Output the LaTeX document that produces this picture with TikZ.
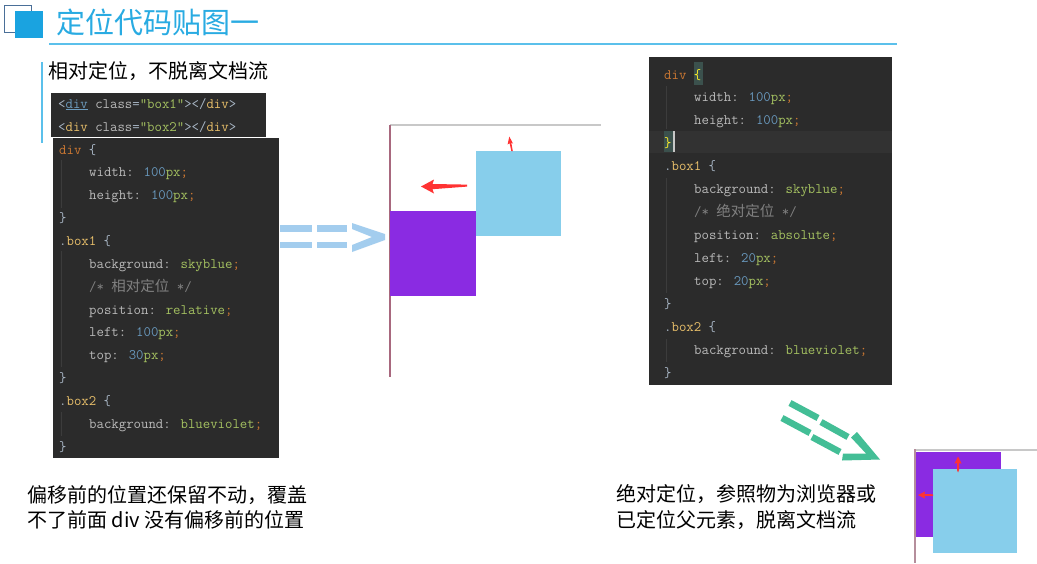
\documentclass[tikz,border=0pt]{standalone}
\usepackage{fontspec}
\newfontfamily\cjk{Noto Sans CJK SC}
\definecolor{titleblue}{HTML}{29ABE2}
\definecolor{linebl}{HTML}{5BC0EB}
\definecolor{iconbl}{HTML}{1AA3E0}
\definecolor{iconout}{HTML}{4A6F98}
\definecolor{codebg}{HTML}{2B2B2B}
\definecolor{codehl}{HTML}{323232}
\definecolor{bracehl}{HTML}{3B514D}
\definecolor{cor}{HTML}{CC7832}
\definecolor{ctx}{HTML}{A9B7C6}
\definecolor{cpr}{HTML}{BABABA}
\definecolor{cnu}{HTML}{6897BB}
\definecolor{cst}{HTML}{A5C261}
\definecolor{cgo}{HTML}{E8BF6A}
\definecolor{ccm}{HTML}{808080}
\definecolor{cyel}{HTML}{FFEF28}
\definecolor{ulink}{HTML}{6D9CBE}
\definecolor{skyb}{HTML}{87CEEB}
\definecolor{bviol}{HTML}{8A2BE2}
\definecolor{redar}{HTML}{FF3333}
\definecolor{lbarrow}{HTML}{A3CDEE}
\definecolor{teal}{HTML}{43BE96}
\definecolor{axisv}{HTML}{A8687E}
\definecolor{axish}{HTML}{C8C8C8}
\definecolor{guide}{HTML}{3C3C3C}
\newcommand\qOr[1]{\textcolor{cor}{#1}}
\newcommand\qTx[1]{\textcolor{ctx}{#1}}
\newcommand\qPr[1]{\textcolor{cpr}{#1}}
\newcommand\qNu[1]{\textcolor{cnu}{#1}}
\newcommand\qSt[1]{\textcolor{cst}{#1}}
\newcommand\qGo[1]{\textcolor{cgo}{#1}}
\newcommand\qCm[1]{\textcolor{ccm}{#1}}
\newcommand\qZh[1]{{\cjk\fontsize{14.5}{16}\selectfont #1}}
\tikzset{
  codeline/.style={anchor=base west, inner sep=0pt, font=\ttfamily\fontsize{14.4}{16}\selectfont, text=cpr},
  zhtext/.style={anchor=west, inner sep=0pt, font=\cjk\fontsize{20}{24}\selectfont, text=black},
  panel/.style={fill=codebg, draw=none},
  redshape/.style={fill=redar, draw=none},
}
\begin{document}
\begin{tikzpicture}[x=1pt,y=-1pt]
\useasboundingbox (0,0) rectangle (1037,563);
\fill[white] (0,0) rectangle (1037,563);
% title icon
\draw[iconout, line width=1.6] (4.5,5.5) rectangle (31.5,32.5);
\fill[iconbl] (15,11) rectangle (43,38);
\node[anchor=west, inner sep=0pt, font=\cjk\fontsize{29}{32}\selectfont, text=titleblue] (title) at (56,22) {定位代码贴图一};
\draw[linebl, line width=2] (49,44) -- (897,44);
\draw[linebl, line width=2] (42,62) -- (42,143);
\node[zhtext] (sub) at (48,71) {相对定位，不脱离文档流};
% left code panels
\fill[panel] (51,93) rectangle (266,137);
\fill[panel] (53,138) rectangle (279,458);
\foreach \ya/\yb in {160/208, 251/367, 412/436}{
  \draw[guide, line width=0.8] (61,\ya) -- (61,\yb);
}
\node[codeline] (h1) at (58,108) {\qTx{<}\textcolor{ulink}{\underline{div}} \qPr{class}\qTx{=}\qSt{"box1"}\qTx{></}\qGo{div}\qTx{>}};
\node[codeline] (h2) at (58,131) {\qTx{<}\qGo{div} \qPr{class}\qTx{=}\qSt{"box2"}\qTx{></}\qGo{div}\qTx{>}};
\node[codeline] (l1) at (59,154) {\qOr{div} \qTx{\{}};
\node[codeline] (l2) at (89,176.9) {width: \qNu{100}\qSt{px}\qOr{;}};
\node[codeline] (l3) at (89,199.7) {height: \qNu{100}\qSt{px}\qOr{;}};
\node[codeline] (l4) at (59,222.6) {\qTx{\}}};
\node[codeline] (l5) at (59,245.4) {\qTx{.}\qGo{box1} \qTx{\{}};
\node[codeline] (l6) at (89,268.3) {background: \qSt{skyblue}\qOr{;}};
\node[codeline] (l7) at (89,291.1) {\qCm{/* \qZh{相对定位} */}};
\node[codeline] (l8) at (89,314) {position: \qSt{relative}\qOr{;}};
\node[codeline] (l9) at (89,336.8) {left: \qNu{100}\qSt{px}\qOr{;}};
\node[codeline] (l10) at (89,359.7) {top: \qNu{30}\qSt{px}\qOr{;}};
\node[codeline] (l11) at (59,382.5) {\qTx{\}}};
\node[codeline] (l12) at (59,405.4) {\qTx{.}\qGo{box2} \qTx{\{}};
\node[codeline] (l13) at (89,428.2) {background: \qSt{blueviolet}\qOr{;}};
\node[codeline] (l14) at (59,451) {\qTx{\}}};
% left big arrow ==>
\fill[lbarrow] (280,225) rectangle (312,232);
\fill[lbarrow] (317,225) rectangle (347,232);
\fill[lbarrow] (280,242) rectangle (312,248);
\fill[lbarrow] (317,242) rectangle (347,248);
\fill[lbarrow] (352,223) -- (385,234) -- (385,240) -- (352,252) -- (352,245) -- (372,237) -- (352,229) -- cycle;
% middle demo
\draw[axish, line width=1.5] (390,125) -- (601,125);
\draw[axisv, line width=1.2] (390,125) -- (390,377);
\node[fill=bviol, inner sep=0pt, minimum width=86pt, minimum height=85pt, anchor=north west] (box2a) at (390,210.5) {};
\node[fill=skyb, inner sep=0pt, minimum width=85pt, minimum height=85pt, anchor=north west] (box1a) at (476,151) {};
\fill[redshape] (421,186.5) -- (434,179.5) -- (432.5,184) -- (467,184.6) -- (467,186.6) -- (432.5,189.2) -- (434,193.5) -- cycle;
\fill[redshape] (509.3,136.5) -- (513,143.5) -- (511.3,142.8) -- (512.8,151) -- (511.3,151) -- (509.6,143.2) -- (507.6,144.5) -- cycle;
% right code panel
\fill[panel] (649,57) rectangle (892,385);
\fill[codehl] (649,130.5) rectangle (892,153);
\foreach \ya/\yb in {86/129, 178/293, 339/362}{
  \draw[guide, line width=0.8] (666,\ya) -- (666,\yb);
}
\fill[bracehl] (694,62) rectangle (703,85);
\fill[bracehl] (664,131) rectangle (672.5,152);
\fill[axish] (672.5,131) rectangle (674.5,152);
\node[codeline] (r1) at (664,79) {\qOr{div} \textcolor{cyel}{\{}};
\node[codeline] (r2) at (694,101.9) {width: \qNu{100}\qSt{px}\qOr{;}};
\node[codeline] (r3) at (694,124.8) {height: \qNu{100}\qSt{px}\qOr{;}};
\node[codeline] (r4) at (664,147.8) {\textcolor{cyel}{\}}};
\node[codeline] (r5) at (664,170.7) {\qTx{.}\qGo{box1} \qTx{\{}};
\node[codeline] (r6) at (694,193.6) {background: \qSt{skyblue}\qOr{;}};
\node[codeline] (r7) at (694,216.5) {\qCm{/* \qZh{绝对定位} */}};
\node[codeline] (r8) at (694,239.4) {position: \qSt{absolute}\qOr{;}};
\node[codeline] (r9) at (694,262.3) {left: \qNu{20}\qSt{px}\qOr{;}};
\node[codeline] (r10) at (694,285.3) {top: \qNu{20}\qSt{px}\qOr{;}};
\node[codeline] (r11) at (664,308.2) {\qTx{\}}};
\node[codeline] (r12) at (664,331.1) {\qTx{.}\qGo{box2} \qTx{\{}};
\node[codeline] (r13) at (694,354) {background: \qSt{blueviolet}\qOr{;}};
\node[codeline] (r14) at (664,377) {\qTx{\}}};
% teal dashed arrow
\begin{scope}[teal, line width=6.5, line cap=butt]
\draw (790,403) -- (818,418);
\draw (821,422) -- (848,437);
\draw (782,418) -- (810,433);
\draw (812,437) -- (840,452);
\end{scope}
\fill[teal] (857,432) -- (880,459.5) -- (842,460.5) -- (843,453.5) -- (866,453.5) -- (851,437.5) -- cycle;
% bottom right demo
\draw[axish, line width=1.5] (915,450) -- (1037,450);
\draw[axisv!60!axish, line width=1.2] (915,449) -- (915,563);
\node[fill=bviol, inner sep=0pt, minimum width=85pt, minimum height=85pt, anchor=north west] (box2b) at (915.6,452) {};
\node[fill=skyb, inner sep=0pt, minimum width=84pt, minimum height=84pt, anchor=north west] (box1b) at (933,469) {};
\fill[redshape] (958,456.5) -- (961.5,463.5) -- (959,463) -- (959,470) -- (958,472.5) -- (957,470) -- (957,463) -- (954.5,463.5) -- cycle;
\fill[redshape] (918,495) -- (925,491.5) -- (924.5,494) -- (933,494.3) -- (933,495.8) -- (924.5,496) -- (925,498.5) -- cycle;
% bottom texts
\node[zhtext] (bl1) at (27,495) {偏移前的位置还保留不动，覆盖};
\node[zhtext] (bl2) at (27,520) {不了前面 div 没有偏移前的位置};
\node[zhtext] (br1) at (616,494) {绝对定位，参照物为浏览器或};
\node[zhtext] (br2) at (616,520) {已定位父元素，脱离文档流};
\end{tikzpicture}
\end{document}
